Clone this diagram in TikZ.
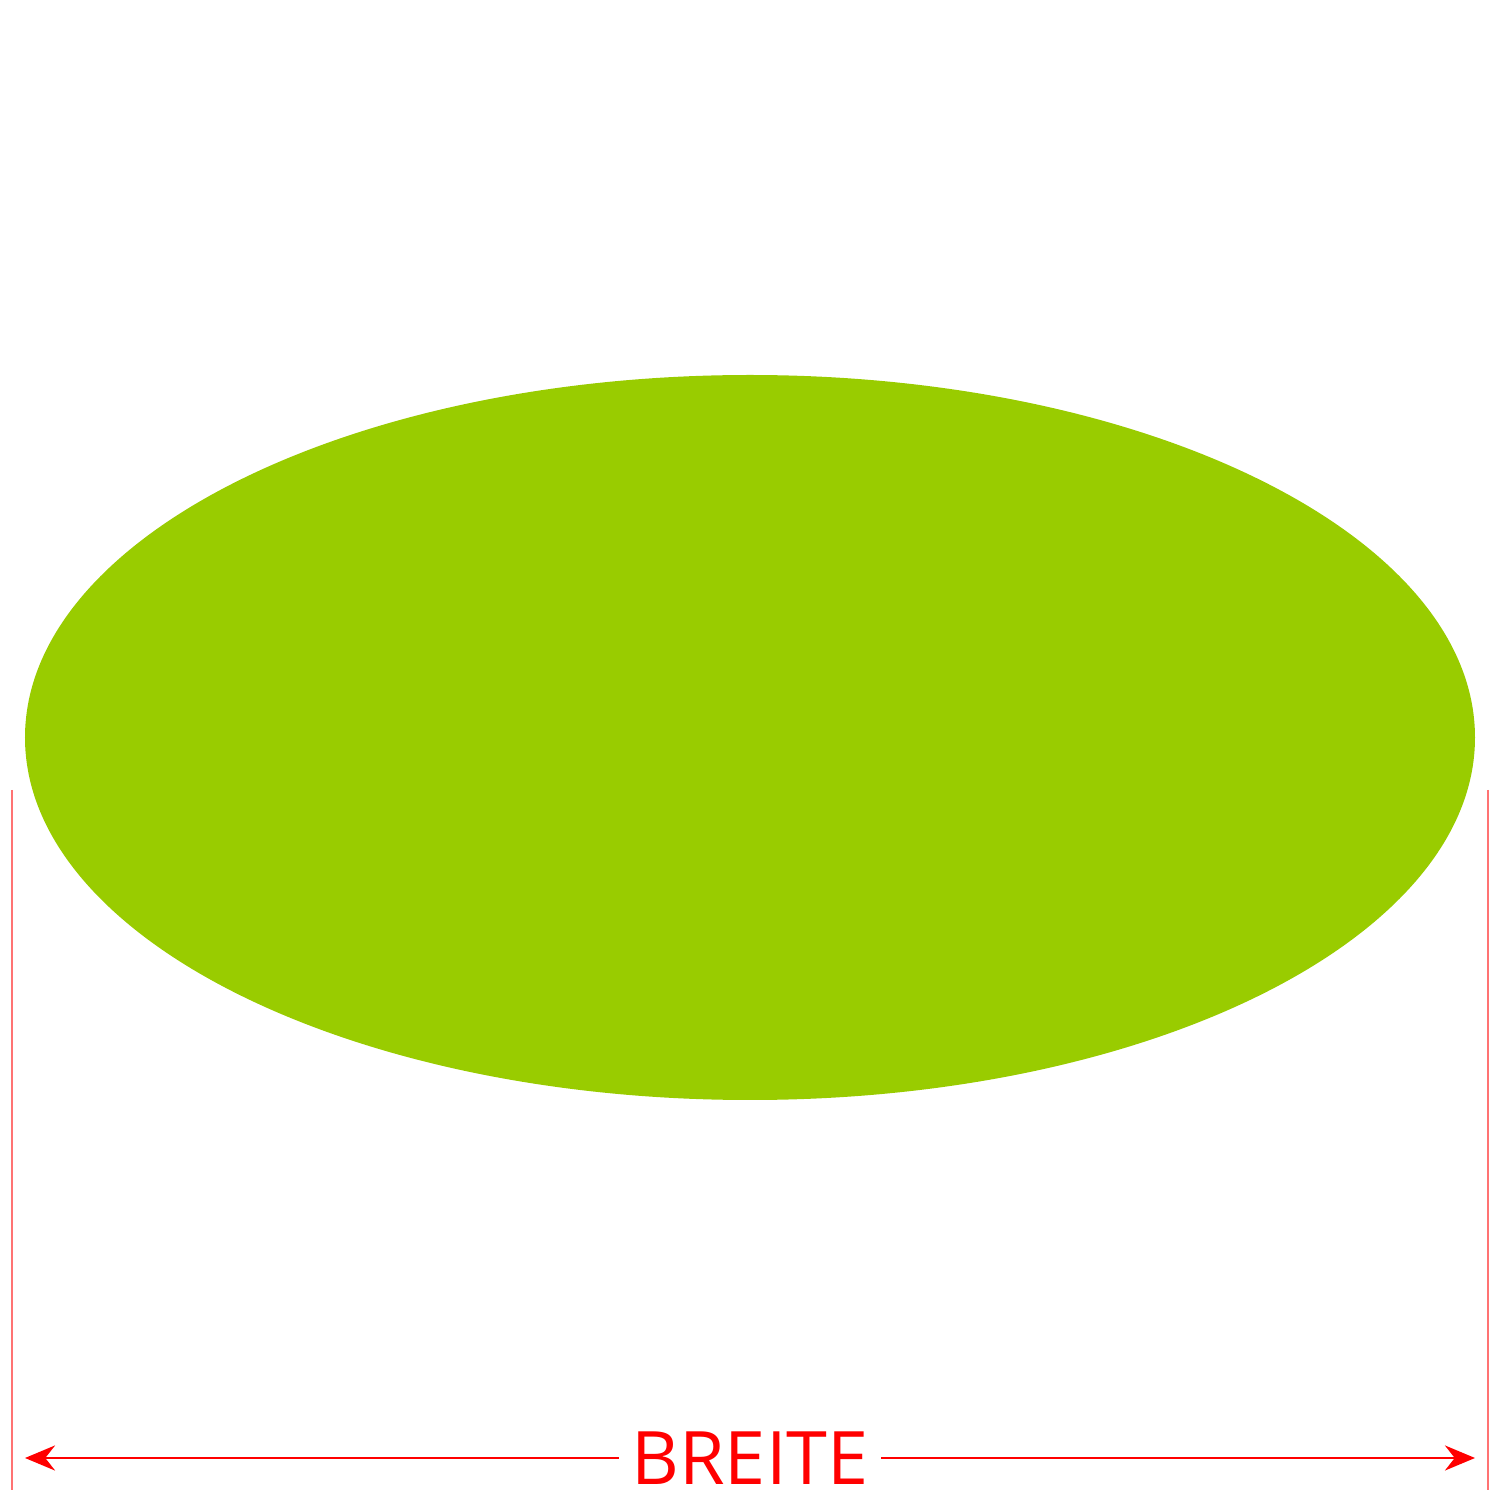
\documentclass[tikz,border=0pt]{standalone}
\usepackage{fontspec}
\setmainfont{Open Sans}
\usetikzlibrary{arrows.meta,shapes.geometric}
\definecolor{ovalgreen}{HTML}{99CC00}
\begin{document}
\begin{tikzpicture}[auto]
\useasboundingbox (0,0) rectangle (15,15);
\node (oval) at (7.5,7.625) [ellipse,fill=ovalgreen,inner sep=0pt,minimum width=14.5cm,minimum height=7.25cm] {};
\coordinate (lefttop)  at (0.12,7.1);
\coordinate (leftbot)  at (0.12,0.1);
\coordinate (righttop) at (14.88,7.1);
\coordinate (rightbot) at (14.88,0.1);
\coordinate (leftend)  at (0.25,0.42);
\coordinate (rightend) at (14.75,0.42);
\draw [red!55,line width=0.02cm] (lefttop) -- (leftbot);
\draw [red!55,line width=0.02cm] (righttop) -- (rightbot);
\draw [red,line width=0.03cm,{Stealth[length=0.3cm,width=0.25cm]}-{Stealth[length=0.3cm,width=0.25cm]}] (leftend) -- (rightend);
\node (breite) at (7.5,0.42) [fill=white,text=red,inner xsep=0.13cm,font=\fontsize{21pt}{24pt}\selectfont] {BREITE};
\end{tikzpicture}
\end{document}
